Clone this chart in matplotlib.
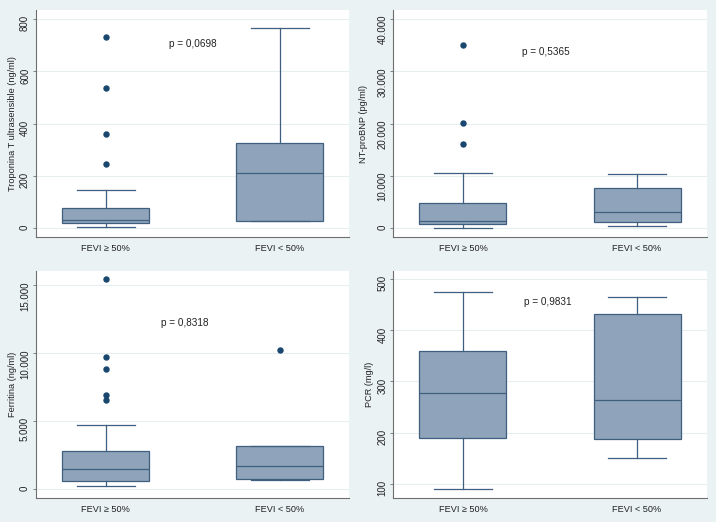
import matplotlib
matplotlib.use("Agg")
import matplotlib.pyplot as plt
from matplotlib.ticker import FuncFormatter

plt.rcParams["font.family"] = ["Liberation Sans", "DejaVu Sans"]

# grupos
groups = ["FEVI ≥ 50%", "FEVI < 50%"]

# estadisticos de cada caja: whislo, q1, med, q3, whishi
tropo_box = [[4, 20, 31, 79, 146], [27, 29, 210, 325, 767]]
tropo_out = [[730, 535, 360, 245], []]
bnp_box = [[115, 765, 1340, 4780, 10520], [510, 1210, 3060, 7640, 10320]]
bnp_out = [[35000, 20100, 16100], []]
ferr_box = [[220, 635, 1490, 2840, 4730], [660, 735, 1690, 3190, 3190]]
ferr_out = [[15440, 9730, 8850, 6910, 6600], [10220]]
pcr_box = [[89, 189, 277, 360, 476], [151, 188, 263, 433, 466]]
pcr_out = [[], []]

ylabels = ["Troponina T ultrasensible (ng/ml)", "NT-proBNP (pg/ml)",
           "Ferritina (ng/ml)", "PCR (mg/l)"]
pvals = ["p = 0,0698", "p = 0,5365", "p = 0,8318", "p = 0,9831"]
yticks = [[0, 200, 400, 600, 800],
          [0, 10000, 20000, 30000, 40000],
          [0, 5000, 10000, 15000],
          [100, 200, 300, 400, 500]]
ylims = [(-34, 834), (-1720, 41720), (-660, 16050), (71.4, 516.2)]

bg = "#EAF2F3"
fill = "#8FA4BA"
line = "#3E5F80"
dot = "#1A476F"

W, H = 716, 522
fig = plt.figure(figsize=(W / 100, H / 100), dpi=100, facecolor=bg)

# posicion de los paneles en pixeles (izq, arriba)
panel_px = [(36, 10), (393.3, 10), (36, 271), (393.3, 271)]
pw, ph = 313.4, 227.3
label_x = [-0.06, -0.081, -0.06, -0.06]
ptext_xy = [(0.50, 0.850), (0.487, 0.814), (0.476, 0.773), (0.494, 0.865)]

boxes = [tropo_box, bnp_box, ferr_box, pcr_box]
outs = [tropo_out, bnp_out, ferr_out, pcr_out]

fmt = FuncFormatter(lambda v, p: f"{v:,.0f}".replace(",", "."))

for i in range(4):
    lx, ty = panel_px[i]
    ax = fig.add_axes([lx / W, (H - ty - ph) / H, pw / W, ph / H])
    ax.set_facecolor("white")

    stats = []
    for b, o in zip(boxes[i], outs[i]):
        stats.append(dict(whislo=b[0], q1=b[1], med=b[2], q3=b[3],
                          whishi=b[4], fliers=o))
    ax.bxp(stats, positions=[1, 2], widths=0.5, capwidths=0.333,
           patch_artist=True, showfliers=True,
           boxprops=dict(facecolor=fill, edgecolor=line, linewidth=0.9),
           medianprops=dict(color=line, linewidth=0.9),
           whiskerprops=dict(color=line, linewidth=0.9),
           capprops=dict(color=line, linewidth=0.9),
           flierprops=dict(marker="o", markersize=3.6, markerfacecolor=dot,
                           markeredgecolor=dot))

    ax.set_xlim(0.6, 2.4)
    ax.set_ylim(*ylims[i])
    ax.set_yticks(yticks[i])
    ax.yaxis.set_major_formatter(fmt)
    ax.set_xticks([1, 2])
    ax.set_xticklabels(groups)
    ax.grid(axis="y", color="#E6EEF0", linewidth=0.8)
    ax.set_axisbelow(True)

    for s in ["top", "right"]:
        ax.spines[s].set_visible(False)
    for s in ["left", "bottom"]:
        ax.spines[s].set_color("#6E6E6E")
        ax.spines[s].set_linewidth(0.8)

    ax.tick_params(axis="y", length=2.5, width=0.6, color="#6E6E6E", pad=1.8,
                   labelsize=7, labelrotation=90, labelcolor="#222222")
    ax.tick_params(axis="x", length=0, pad=4.5, labelsize=6.6,
                   labelcolor="#222222")

    ax.set_ylabel(ylabels[i], fontsize=6.6, color="#222222")
    ax.yaxis.set_label_coords(label_x[i], 0.5)

    ax.text(ptext_xy[i][0], ptext_xy[i][1], pvals[i], transform=ax.transAxes,
            ha="center", va="center", fontsize=7.2, color="#222222")

plt.savefig("out.png", dpi=100, facecolor=bg)
